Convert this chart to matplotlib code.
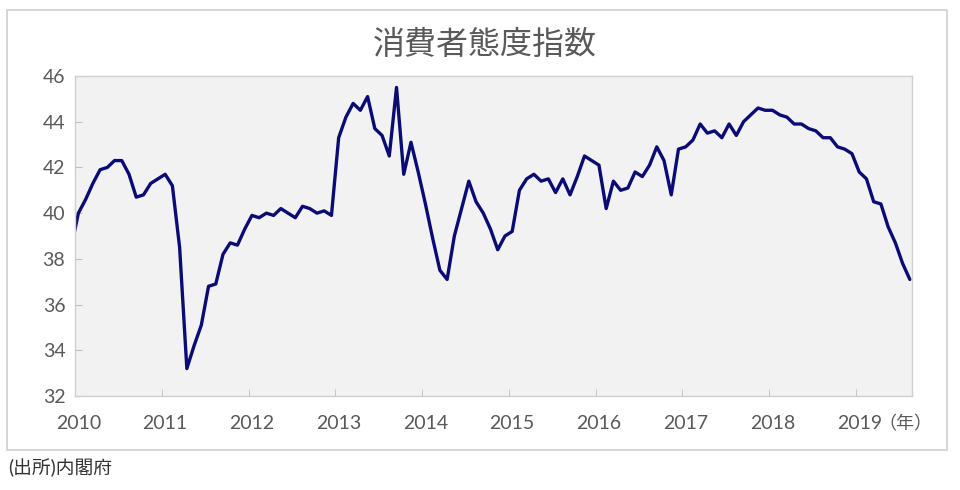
import numpy as np
import matplotlib.pyplot as plt
from matplotlib.patches import Rectangle

plt.rcParams['font.family'] = ['Lato', 'Noto Sans CJK JP']

# data: monthly consumer confidence index, Dec 2009 .. Aug 2019
title = '消費者態度指数'
source = '(出所)内閣府'
year_labels = [str(y) for y in range(2010, 2020)]
unit_label = '（年）'
first_month = -1  # Dec 2009 (Jan 2010 = 0)
index_values = [
    38.5,
    # 2010
    40.0, 40.6, 41.3, 41.9, 42.0, 42.3, 42.3, 41.7, 40.7, 40.8, 41.3, 41.5,
    # 2011
    41.7, 41.2, 38.5, 33.2, 34.2, 35.1, 36.8, 36.9, 38.2, 38.7, 38.6, 39.3,
    # 2012
    39.9, 39.8, 40.0, 39.9, 40.2, 40.0, 39.8, 40.3, 40.2, 40.0, 40.1, 39.9,
    # 2013
    43.3, 44.2, 44.8, 44.5, 45.1, 43.7, 43.4, 42.5, 45.5, 41.7, 43.1, 41.8,
    # 2014
    40.4, 38.9, 37.5, 37.1, 39.0, 40.2, 41.4, 40.5, 40.0, 39.3, 38.4, 39.0,
    # 2015
    39.2, 41.0, 41.5, 41.7, 41.4, 41.5, 40.9, 41.5, 40.8, 41.6, 42.5, 42.3,
    # 2016
    42.1, 40.2, 41.4, 41.0, 41.1, 41.8, 41.6, 42.1, 42.9, 42.3, 40.8, 42.8,
    # 2017
    42.9, 43.2, 43.9, 43.5, 43.6, 43.3, 43.9, 43.4, 44.0, 44.3, 44.6, 44.5,
    # 2018
    44.5, 44.3, 44.2, 43.9, 43.9, 43.7, 43.6, 43.3, 43.3, 42.9, 42.8, 42.6,
    # 2019
    41.8, 41.5, 40.5, 40.4, 39.4, 38.7, 37.8, 37.1,
]

months = np.arange(first_month, first_month + len(index_values))
year_pos = np.arange(len(year_labels)) * 12

fig = plt.figure(figsize=(9.6, 4.9), dpi=100)

# outer frame of the chart
fig.patches.append(Rectangle((7 / 960, 1 - 450 / 490), 940 / 960, 440 / 490,
                             transform=fig.transFigure, fill=False,
                             edgecolor='#D0D0D0', linewidth=1.2))

ax = fig.add_axes([75 / 960, 94 / 490, 837 / 960, 320 / 490])
ax.set_facecolor('#F2F2F2')
ax.plot(months, index_values, color='#0B0B75', linewidth=2.4,
        solid_joinstyle='round', solid_capstyle='round')

ax.set_xlim(-0.47, 115.3)
ax.set_ylim(32, 46)

ax.set_yticks(range(32, 47, 2))
ax.tick_params(axis='y', direction='in', length=5, color='#BFBFBF',
               labelsize=14, labelcolor='#595959', pad=7)

# labels under January, tick marks at the year boundary
ax.set_xticks(year_pos)
ax.set_xticklabels(year_labels)
ax.tick_params(axis='x', which='major', length=0, labelsize=14,
               labelcolor='#595959', pad=14)
ax.set_xticks(year_pos - 0.47, minor=True)
ax.tick_params(axis='x', which='minor', direction='in', length=5, color='#BFBFBF')

for s in ax.spines.values():
    s.set_color('#D0D0D0')
    s.set_linewidth(1)

fig.text(905 / 960, 1 - 424 / 490, unit_label, ha='center', va='center',
         fontsize=13, color='#595959')

fig.text(485 / 960, 1 - 45 / 490, title, ha='center', va='center',
         fontsize=23, color='#595959')
fig.text(8 / 960, 1 - 468 / 490, source, ha='left', va='center',
         fontsize=13.5, color='#333333')

fig.savefig('out.png', dpi=100)
